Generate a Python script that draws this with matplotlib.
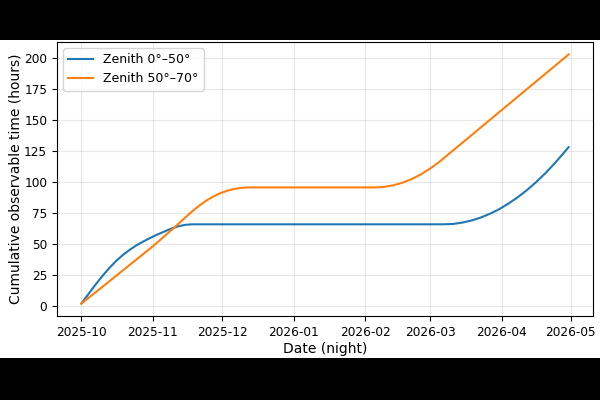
import pandas as pd
import matplotlib
matplotlib.use('Agg')
import matplotlib.dates as mdates
from matplotlib import pyplot as plt
from matplotlib.patches import Rectangle

# cumulative observable hours
low_dates = ['2025-10-01', '2025-10-04', '2025-10-07', '2025-10-10', '2025-10-13',
             '2025-10-16', '2025-10-19', '2025-10-22', '2025-10-25', '2025-10-28',
             '2025-10-31', '2025-11-03', '2025-11-06', '2025-11-09', '2025-11-12',
             '2025-11-15', '2025-11-18', '2026-03-07', '2026-03-11', '2026-03-15',
             '2026-03-19', '2026-03-23', '2026-03-27', '2026-03-31', '2026-04-04',
             '2026-04-08', '2026-04-12', '2026-04-16', '2026-04-20', '2026-04-24',
             '2026-04-28', '2026-04-30']
low_hours = [2.0, 9.5, 17.0, 24.0, 30.5,
             36.3, 41.3, 45.5, 49.2, 52.3,
             55.2, 57.8, 60.2, 62.6, 64.4,
             65.6, 66.0, 66.0, 66.3, 67.4,
             69.1, 71.5, 74.6, 78.3, 82.8,
             87.9, 93.7, 100.2, 107.4, 115.3,
             123.9, 128.4]

high_dates = ['2025-10-01', '2025-10-11', '2025-10-21', '2025-11-01', '2025-11-10',
              '2025-11-18', '2025-11-21', '2025-11-24', '2025-11-27', '2025-11-30',
              '2025-12-03', '2025-12-06', '2025-12-09', '2025-12-12',
              '2026-02-05', '2026-02-09', '2026-02-13', '2026-02-17', '2026-02-21',
              '2026-02-25', '2026-03-01', '2026-03-05', '2026-03-07', '2026-04-30']
high_hours = [2.0, 16.8, 31.8, 48.3, 63.0,
              76.5, 81.0, 85.0, 88.3, 91.0,
              93.0, 94.5, 95.4, 95.8,
              95.8, 96.2, 97.5, 99.6, 102.5,
              106.3, 111.0, 116.4, 119.5, 203.2]

labels = ['Zenith 0°–50°', 'Zenith 50°–70°']

fig = plt.figure(figsize=(6, 4), dpi=100, facecolor='black')
# white band of the original figure inside the black frame
fig.patches.append(Rectangle((0, 0.105), 1, 0.795, transform=fig.transFigure,
                             facecolor='white', edgecolor='none', zorder=-1))
ax = fig.add_axes([0.095, 0.21, 0.8933, 0.685])

ax.plot(pd.to_datetime(low_dates), low_hours, color='#1f77b4', lw=1.5, label=labels[0])
ax.plot(pd.to_datetime(high_dates), high_hours, color='#ff7f0e', lw=1.5, label=labels[1])

ax.xaxis.set_major_locator(mdates.MonthLocator())
ax.xaxis.set_major_formatter(mdates.DateFormatter('%Y-%m'))
ax.tick_params(labelsize=8.7)
ax.set_xlabel('Date (night)', fontsize=10, labelpad=2)
ax.set_ylabel('Cumulative observable time (hours)', fontsize=10)
ax.yaxis.set_label_coords(-0.064, 0.5)
ax.grid(True, alpha=0.3)
ax.legend(loc='upper left', fontsize=9)

fig.savefig('out.png', dpi=100, facecolor=fig.get_facecolor())
